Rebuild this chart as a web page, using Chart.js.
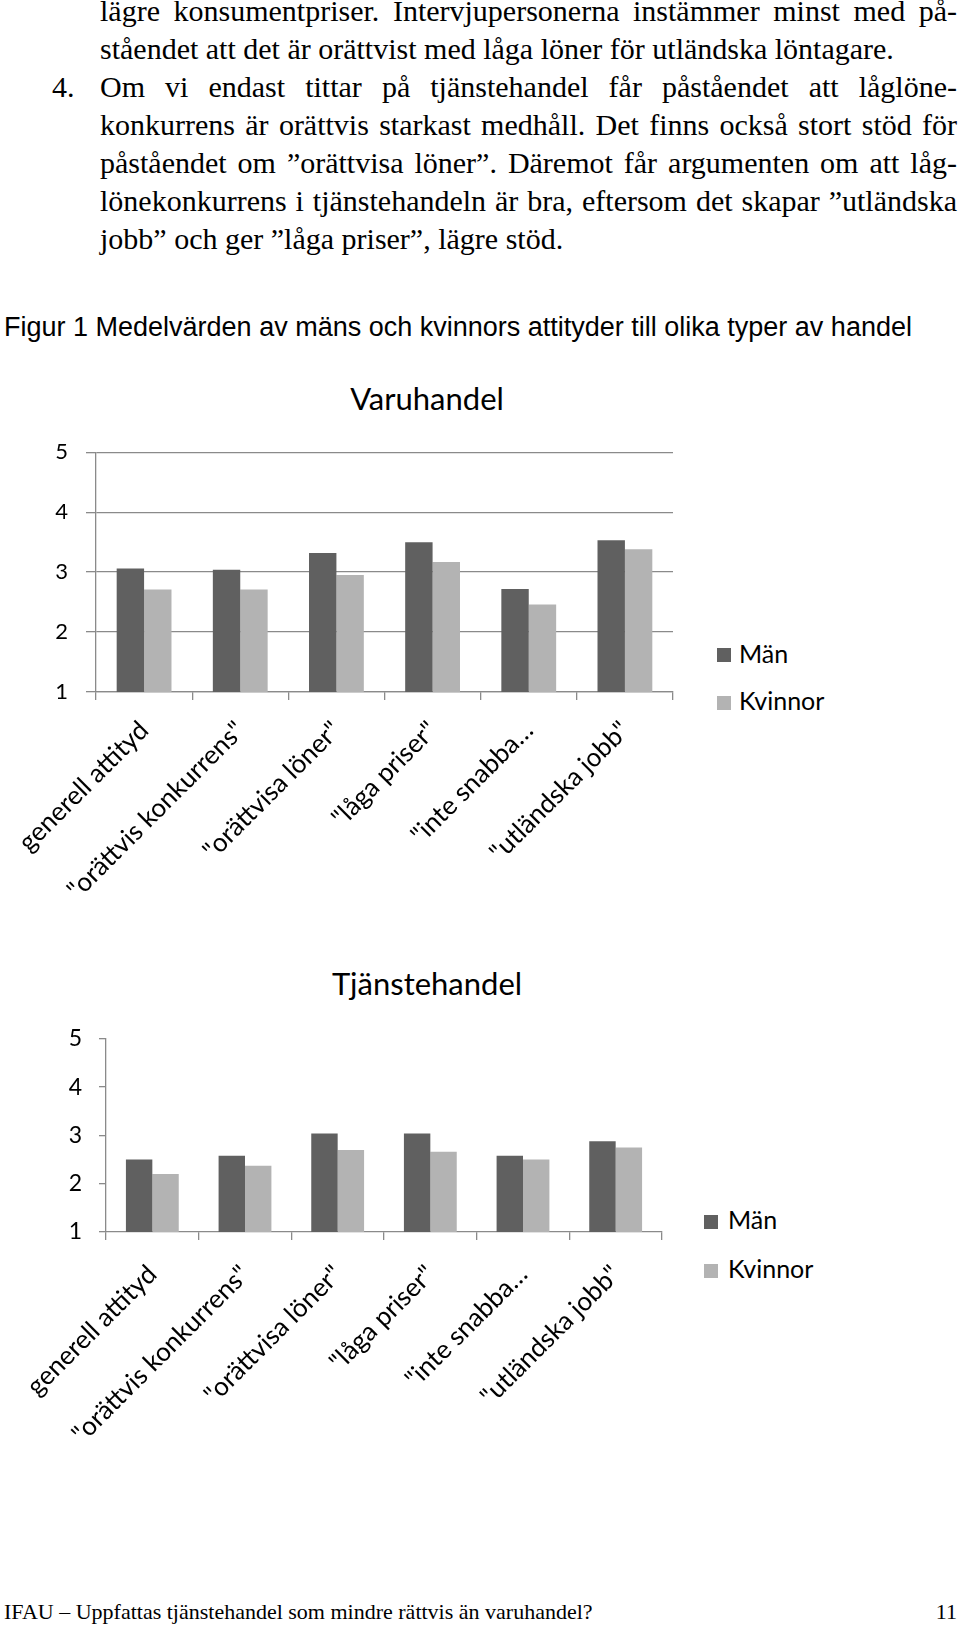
<!DOCTYPE html>
<html lang="sv">
<head>
<meta charset="utf-8">
<title>Figur 1 Medelvärden av mäns och kvinnors attityder</title>
<script src="https://cdn.jsdelivr.net/npm/chart.js@4.4.1/dist/chart.umd.min.js"></script>
<style>
  html, body { margin: 0; padding: 0; background: #fff; }
  body { width: 960px; height: 1628px; position: relative; overflow: hidden; }
  .abs { position: absolute; white-space: nowrap; }
  .body-line { position: absolute; left: 100px; width: 857px; font-family: "Liberation Serif", serif; font-size: 30px; line-height: 38px; color: #000; white-space: nowrap; }
  .just { text-align: justify; text-align-last: justify; white-space: normal; }
  .num { position: absolute; left: 52px; font-family: "Liberation Serif", serif; font-size: 30px; line-height: 38px; }
  .caption { left: 4px; top: 311px; font-family: "Liberation Sans", Arial, sans-serif; font-size: 27px; line-height: 32px; }
  .ctitle { font-family: Lato, sans-serif; font-size: 31px; line-height: 1.2; transform: translateX(-50%); }
  .legend { font-family: Lato, sans-serif; font-size: 25px; line-height: 1.2; }
  .sw { position: absolute; width: 14px; height: 14px; }
  .footer { font-family: "Liberation Serif", serif; font-size: 22px; line-height: 30px; top: 1597px; }
  canvas { position: absolute; left: 0; }
</style>
</head>
<body>

<div class="body-line just" style="top:-8px">lägre konsumentpriser. Intervjupersonerna instämmer minst med på-</div>
<div class="body-line" style="top:30px">ståendet att det är orättvist med låga löner för utländska löntagare.</div>
<div class="num" style="top:68px">4.</div>
<div class="body-line just" style="top:68px">Om vi endast tittar på tjänstehandel får påståendet att låglöne-</div>
<div class="body-line just" style="top:106px">konkurrens är orättvis starkast medhåll. Det finns också stort stöd för</div>
<div class="body-line just" style="top:144px">påståendet om ”orättvisa löner”. Däremot får argumenten om att låg-</div>
<div class="body-line just" style="top:182px">lönekonkurrens i tjänstehandeln är bra, eftersom det skapar ”utländska</div>
<div class="body-line" style="top:220px">jobb” och ger ”låga priser”, lägre stöd.</div>

<div class="abs caption">Figur 1 Medelvärden av mäns och kvinnors attityder till olika typer av handel</div>

<div class="abs ctitle" style="left:427px; top:380px">Varuhandel</div>
<canvas id="chartVaru" width="700" height="489" style="top:421px"></canvas>
<div class="sw" style="left:717px; top:648px; background:#606060"></div>
<div class="abs legend" style="left:739px; top:638px">Män</div>
<div class="sw" style="left:717px; top:696px; background:#b3b3b3"></div>
<div class="abs legend" style="left:739px; top:685px">Kvinnor</div>

<div class="abs ctitle" style="left:427px; top:965px">Tjänstehandel</div>
<canvas id="chartTjanst" width="690" height="447" style="top:1008px"></canvas>
<div class="sw" style="left:704px; top:1215px; background:#606060"></div>
<div class="abs legend" style="left:728px; top:1204px">Män</div>
<div class="sw" style="left:704px; top:1264px; background:#b3b3b3"></div>
<div class="abs legend" style="left:728px; top:1253px">Kvinnor</div>

<div class="abs footer" style="left:4px">IFAU – Uppfattas tjänstehandel som mindre rättvis än varuhandel?</div>
<div class="abs footer" style="right:3px">11</div>

<script>
const categories = ['generell attityd', '"orättvis konkurrens"', '"orättvisa löner"', '"låga priser"', '"inte snabba…', '"utländska jobb"'];
const seriesNames = ['Män', 'Kvinnor'];
const yTicks = [1, 2, 3, 4, 5];

// Varuhandel
const varuMan = [3.06, 3.04, 3.32, 3.50, 2.72, 3.53];
const varuKvinnor = [2.71, 2.71, 2.95, 3.17, 2.46, 3.38];

// Tjänstehandel
const tjanstMan = [2.50, 2.58, 3.04, 3.04, 2.58, 2.88];
const tjanstKvinnor = [2.20, 2.37, 2.70, 2.66, 2.50, 2.75];

const darkGray = '#606060';
const lightGray = '#b3b3b3';
const axisGray = '#8a8a8a';

function makeChart(id, man, kvinnor, opts) {
    let ctx = document.getElementById(id).getContext('2d');
    return new Chart(ctx, {
        type: 'bar',
        data: {
            labels: categories,
            datasets: [{
                label: seriesNames[0],
                data: man,
                backgroundColor: darkGray,
                borderWidth: 0
            },
            {
                label: seriesNames[1],
                data: kvinnor,
                backgroundColor: lightGray,
                borderWidth: 0
            }]
        },
        options: {
            responsive: false,
            animation: false,
            categoryPercentage: 0.57,
            barPercentage: 1.0,
            layout: { padding: { top: 0, right: opts.padRight, left: 0, bottom: 0 } },
            plugins: {
                legend: { display: false },
                title: { display: false },
                tooltip: { enabled: false }
            },
            scales: {
                x: {
                    grid: {
                        offset: true,
                        drawOnChartArea: false,
                        drawTicks: true,
                        tickLength: 8,
                        color: axisGray,
                        lineWidth: 1.3
                    },
                    border: { display: true, color: axisGray, width: 1.3 },
                    ticks: {
                        color: '#000',
                        font: { family: 'Lato', size: 26 },
                        minRotation: 45,
                        maxRotation: 45,
                        autoSkip: false,
                        padding: opts.xPad
                    },
                    afterFit: function(scale) { scale.height = opts.xHeight; }
                },
                y: {
                    min: yTicks[0],
                    max: yTicks[yTicks.length - 1],
                    afterBuildTicks: function(scale) { scale.ticks = yTicks.map(v => ({ value: v })); },
                    grid: {
                        drawOnChartArea: opts.gridLines,
                        drawTicks: true,
                        tickLength: opts.yTickLen,
                        color: axisGray,
                        lineWidth: 1.3
                    },
                    border: { display: true, color: axisGray, width: 1.3 },
                    ticks: {
                        color: '#000',
                        font: { family: 'Lato', size: opts.yFont },
                        padding: opts.yPad
                    },
                    afterFit: function(scale) { scale.width = opts.yWidth; }
                }
            }
        }
    });
}

makeChart('chartVaru', varuMan, varuKvinnor, {
    padRight: 27, xHeight: 218, yWidth: 96,
    gridLines: true, yTickLen: 10, yFont: 22, yPad: 18, xPad: 15
});

makeChart('chartTjanst', tjanstMan, tjanstKvinnor, {
    padRight: 28, xHeight: 223, yWidth: 106,
    gridLines: false, yTickLen: 7, yFont: 23, yPad: 17, xPad: 19
});
</script>
</body>
</html>
